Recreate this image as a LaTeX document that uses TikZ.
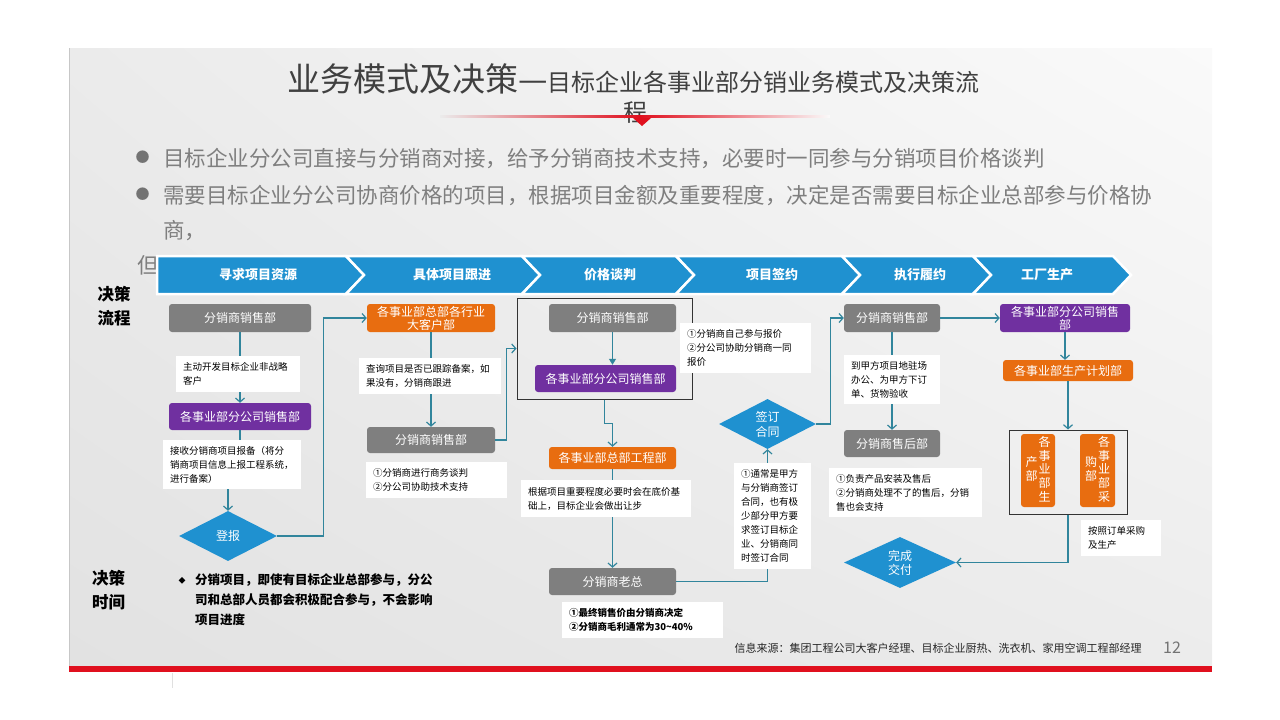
\documentclass[tikz,border=0pt]{standalone}
\usepackage{fontspec}
\setmainfont{Noto Sans CJK SC}
\usetikzlibrary{arrows.meta,shapes.geometric,shadings}

\definecolor{chevblue}{HTML}{1F91D0}
\definecolor{boxgray}{HTML}{7F7F7F}
\definecolor{boxpurple}{HTML}{7030A0}
\definecolor{boxorange}{HTML}{E86D10}
\definecolor{linkteal}{HTML}{31859C}
\definecolor{titlegray}{HTML}{404040}
\definecolor{bulletgray}{HTML}{7F7F7F}
\definecolor{slidered}{HTML}{E0101E}
\definecolor{slidebgA}{HTML}{EBEBEB}
\definecolor{slidebgB}{HTML}{FAFAFA}
\definecolor{slidebgC}{HTML}{E2E2E2}
\definecolor{slidebgD}{HTML}{ECECEC}

\tikzset{
  box/.style={rounded corners=3pt, text=white, align=center, inner sep=0pt, font=\fontsize{12}{13}\selectfont},
  gbox/.style={box, fill=boxgray},
  pbox/.style={box, fill=boxpurple},
  obox/.style={box, fill=boxorange},
  note/.style={fill=white, align=left, inner xsep=7pt, inner ysep=0pt, font=\fontsize{9.5}{14}\selectfont},
  dia/.style={diamond, aspect=2, fill=chevblue, text=white, inner sep=0pt, align=center, font=\fontsize{12}{15}\selectfont},
  frm/.style={draw=black!80, line width=1pt, inner sep=0pt},
  link/.style={draw=linkteal, line width=1.2pt, -{Straight Barb[length=4pt,width=9pt]}},
  chev/.style={fill=chevblue, draw=white, line width=2.5pt, line join=miter},
  chevtxt/.style={text=white, inner sep=0pt, font=\bfseries\fontsize{13}{13}\selectfont},
}

\newcommand{\vcol}[1]{\begin{tabular}[c]{@{}c@{}}#1\end{tabular}}

\begin{document}
\begin{tikzpicture}[x=1pt, y=-1pt]
\useasboundingbox (0,0) rectangle (1280,720);

% slide background
\shade[upper left=slidebgA, upper right=slidebgB, lower left=slidebgC, lower right=slidebgD] (69,48) rectangle (1212,666);
\draw[black!22, line width=1pt] (69.5,48) -- (69.5,666);
\fill[slidered] (69,666) rectangle (1212,672);
\draw[black!12, line width=0.6pt] (172,673) -- (172,688);

% title
\node[anchor=base west, inner sep=0pt, text=titlegray] (title) at (287,91) {{\fontsize{33}{40}\selectfont 业务模式及决策—}{\fontsize{24}{28}\selectfont 目标企业各事业部分销业务模式及决策流}};
\node[anchor=base, inner sep=0pt, text=titlegray, font=\fontsize{24}{28}\selectfont] (title2) at (635,121.5) {程};
\shade[left color=slidebgA, right color=slidered] (440,115.5) rectangle (640,117);
\shade[left color=slidered, right color=slidebgB] (640,115.5) rectangle (830,117);
\fill[slidered] (633,118) -- (651,118) -- (642,126) -- cycle;

% bullets
\node[anchor=base, inner sep=0pt, text=black!55, font=\fontsize{14}{14}\selectfont] (dot1) at (142.5,162) {●};
\node[anchor=base west, inner sep=0pt, text=bulletgray, font=\fontsize{21.5}{26}\selectfont] (b1) at (163,166) {目标企业分公司直接与分销商对接，给予分销商技术支持，必要时一同参与分销项目价格谈判};
\node[anchor=base, inner sep=0pt, text=black!55, font=\fontsize{14}{14}\selectfont] (dot2) at (142.5,199.5) {●};
\node[anchor=base west, inner sep=0pt, text=bulletgray, font=\fontsize{21.5}{26}\selectfont] (b2) at (163,203) {需要目标企业分公司协商价格的项目，根据项目金额及重要程度，决定是否需要目标企业总部参与价格协};
\node[anchor=base west, inner sep=0pt, text=bulletgray, font=\fontsize{21.5}{26}\selectfont] (b2b) at (163,238) {商，};
\node[anchor=base west, inner sep=0pt, text=bulletgray, font=\fontsize{21.5}{26}\selectfont] (b3) at (137,273) {但};

% stage strip
\foreach \l/\n/\r/\tx/\txt [count=\i] in {157/0/346/258/寻求项目资源, 346/18/522/452/具体项目跟进, 522/18/676/610/价格谈判, 676/18/842/772/项目签约, 842/18/973/920/执行履约, 973/18/1113/1047/工厂生产}{
  \draw[chev] (\l,256) -- (\r,256) -- ++(18,19) -- ++(-18,19) -- (\l,294) -- ++(\n,-19) -- cycle;
  \node[chevtxt] (h\i) at (\tx,275) {\txt};
}

% row labels
\node[font=\bfseries\fontsize{16.5}{24}\selectfont, align=center, inner sep=0pt] (lblflow) at (114,306) {决策\\流程};
\node[font=\bfseries\fontsize{16.5}{24}\selectfont, align=center, inner sep=0pt] (lbltime) at (108.5,590.5) {决策\\时间};

% column 1
\node[gbox, minimum width=142pt, minimum height=28pt] (g1) at (240,318) {分销商销售部};
\node[pbox, minimum width=142pt, minimum height=27pt] (p1) at (240,416.5) {各事业部分公司销售部};
\node[dia, minimum width=98pt, minimum height=50pt] (d1) at (228,536) {登报};

% column 2
\node[obox, minimum width=128pt, minimum height=28pt] (o1) at (431,318) {各事业部总部各行业\\大客户部};
\node[gbox, minimum width=128pt, minimum height=26pt] (g2) at (431,440) {分销商销售部};

% column 3
\node[frm, minimum width=175pt, minimum height=101pt] (f1) at (604.5,348.5) {};
\node[gbox, minimum width=127pt, minimum height=28pt] (g3) at (612.5,318) {分销商销售部};
\node[pbox, minimum width=141pt, minimum height=27pt] (p2) at (605.5,378.5) {各事业部分公司销售部};
\node[obox, minimum width=127pt, minimum height=22pt] (o2) at (612.5,458) {各事业部总部工程部};
\node[gbox, minimum width=127pt, minimum height=27pt] (g4) at (612.5,581.5) {分销商老总};

% column 4
\node[dia, minimum width=97pt, minimum height=50pt] (d2) at (767.5,424) {签订\\合同};

% column 5
\node[gbox, minimum width=96pt, minimum height=28pt] (g5) at (892,318) {分销商销售部};
\node[gbox, minimum width=96pt, minimum height=27pt] (g6) at (892,443.5) {分销商售后部};
\node[dia, minimum width=112pt, minimum height=51pt, font=\fontsize{12}{14}\selectfont] (d3) at (900,562.5) {完成\\交付};

% column 6
\node[pbox, minimum width=130pt, minimum height=28pt] (p3) at (1065,318) {各事业部分公司销售\\部};
\node[obox, minimum width=130pt, minimum height=21pt] (o3) at (1068,370.5) {各事业部生产计划部};
\node[frm, minimum width=118pt, minimum height=84pt] (f2) at (1068,472) {};
\node[obox, minimum width=34pt, minimum height=73pt, font=\fontsize{12}{12}\selectfont] (o4) at (1038,470.5) {\vcol{产\\部}\hspace{1pt}\vcol{各\\事\\业\\部\\生}};
\node[obox, minimum width=35pt, minimum height=73pt, font=\fontsize{12}{12}\selectfont] (o5) at (1097.5,470.5) {\vcol{购\\部}\hspace{1pt}\vcol{各\\事\\业\\部\\采}};

% connectors
\draw[link] (g1) -- (p1);
\draw[link] (p1.south) -- ++(0,20) -| (d1.north);
\draw[link] (d1.east) -- ++(46,0) |- (o1.west);
\draw[link] (o1) -- (g2);
\draw[link] (g2.east) -- ++(11,0) |- (f1.west);
\draw[draw=linkteal, line width=1.2pt, -{Triangle[length=6pt,width=7pt]}] (g3.south) -- (g3.south |- p2.north);
\draw[link] (f1.south) -- ++(0,24) -| (o2.north);
\draw[link] (o2) -- (g4);
\draw[link] (g4.east) -| (d2.south);
\draw[link] (d2.east) -- ++(14,0) |- (g5.west);
\draw[link] (g5) -- (g6);
\draw[link] (g5) -- (p3);
\draw[link] (p3.south) -- (p3.south |- o3.north);
\draw[link] (o3) -- (f2);
\draw[link] (f2.south) |- (d3.east);

% notes
\node[note, text width=110pt, minimum height=36pt] (n1) at (238,374) {主动开发目标企业非战略\\客户};
\node[note, text width=124pt, minimum height=49pt] (n2) at (232,464.5) {接收分销商项目报备（将分\\销商项目信息上报工程系统，\\进行备案）};
\node[note, text width=128pt, minimum height=36pt] (n3) at (430,376) {查询项目是否已跟踪备案，如\\果没有，分销商跟进};
\node[note, text width=127pt, minimum height=36pt] (n4) at (436.5,480) {①分销商进行商务谈判\\②分公司协助技术支持};
\node[note, text width=117pt, minimum height=50pt] (n5) at (745.5,348) {①分销商自己参与报价\\②分公司协助分销商一同\\报价};
\node[note, text width=156pt, minimum height=37pt] (n6) at (606,498.5) {根据项目重要程度必要时会在底价基\\础上，目标企业会做出让步};
\node[note, text width=147pt, minimum height=36pt, font=\bfseries\fontsize{9.5}{14}\selectfont] (n7) at (642.5,620) {①最终销售价由分销商决定\\②分销商毛利通常为30\textasciitilde40\%};
\node[note, text width=63pt, minimum height=106pt] (n8) at (772.5,516) {①通常是甲方\\与分销商签订\\合同，也有极\\少部分甲方要\\求签订目标企\\业、分销商同\\时签订合同};
\node[note, text width=82pt, minimum height=49pt] (n9) at (892,379.5) {到甲方项目地驻场\\办公、为甲方下订\\单、货物验收};
\node[note, text width=139pt, minimum height=49pt] (n10) at (905.5,492.5) {①负责产品安装及售后\\②分销商处理不了的售后，分销\\售也会支持};
\node[note, text width=66pt, minimum height=36pt] (n11) at (1121,538) {按照订单采购\\及生产};

% decision time
\node[inner sep=0pt, font=\fontsize{7}{7}\selectfont] (dmark) at (182,581) {◆};
\node[anchor=north west, inner sep=0pt, text width=250pt, align=left, font=\bfseries\fontsize{12.5}{20}\selectfont] (dtime) at (195,573) {分销项目，即使有目标企业总部参与，分公\\司和总部人员都会积极配合参与，不会影响\\项目进度};

% footer
\node[inner sep=0pt, text=black!85, font=\fontsize{11}{11}\selectfont] (src) at (938,648) {信息来源：集团工程公司大客户经理、目标企业厨热、洗衣机、家用空调工程部经理};
\node[inner sep=0pt, text=black!55, font=\fontsize{16}{16}\selectfont] (pgno) at (1172,648) {12};
\end{tikzpicture}
\end{document}
